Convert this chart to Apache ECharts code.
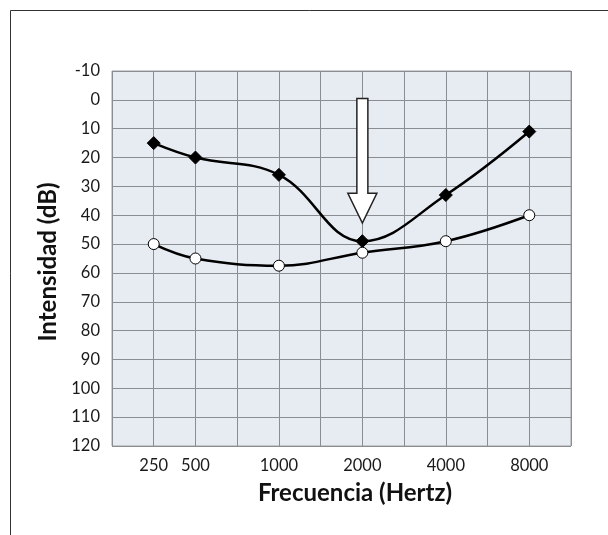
<!DOCTYPE html>
<html>
<head>
<meta charset="utf-8">
<script src="https://cdn.jsdelivr.net/npm/echarts@6/dist/echarts.min.js"></script>
<style>
html,body{margin:0;padding:0;background:#fff;}
#c{width:608px;height:535px;}
</style>
</head>
<body>
<div id="c"></div>
<script>
// Category positions on the x scale and their labels
var freqPos = [1, 2, 4, 6, 8, 10];
var freqLabels = ['250', '500', '1000', '2000', '4000', '8000'];
// Series values (dB)
var filledValues = [15, 20, 26, 49, 33, 11];
var openValues = [50, 55, 57.5, 53, 49, 40];
// Arrow annotation: [x position, top value, head start value, tip value]
var arrowData = [[6, -0.5, 32.4, 42.7]];

var chart = echarts.init(document.getElementById('c'));
var fontFam = 'Lato, "Open Sans", sans-serif';

function pairs(vals) {
  return freqPos.map(function (p, i) { return [p, vals[i]]; });
}

var option = {
  animation: false,
  backgroundColor: '#ffffff',
  graphic: [{
    type: 'rect',
    shape: { x: 10.5, y: 10.5, width: 700, height: 700 },
    style: { fill: 'none', stroke: '#333', lineWidth: 1 },
    z: -1
  }],
  grid: {
    left: 112, top: 71, width: 459, height: 375,
    show: true,
    backgroundColor: '#E7EBF2',
    borderColor: '#a0a0a0',
    borderWidth: 1
  },
  xAxis: {
    type: 'value',
    min: 0, max: 11, interval: 1,
    axisLine: { show: false },
    axisTick: { show: false },
    splitLine: { show: true, lineStyle: { color: '#8a8d92', width: 1 } },
    axisLabel: {
      color: '#1a1a1a', fontSize: 16.5, fontFamily: fontFam, margin: 11,
      formatter: function (v) {
        var i = freqPos.indexOf(v);
        return i >= 0 ? freqLabels[i] : '';
      }
    },
    name: 'Frecuencia (Hertz)',
    nameLocation: 'middle',
    nameGap: 35,
    nameTextStyle: { fontSize: 24, fontWeight: 'bold', fontFamily: fontFam, color: '#111', padding: [0, 0, 0, 27] }
  },
  yAxis: {
    type: 'value',
    inverse: true,
    min: -10, max: 120, interval: 10,
    axisLine: { show: false },
    axisTick: { show: false },
    splitLine: { show: true, lineStyle: { color: '#8a8d92', width: 1 } },
    axisLabel: { color: '#1a1a1a', fontSize: 16.5, fontFamily: fontFam, margin: 12 },
    name: 'Intensidad (dB)',
    nameLocation: 'middle',
    nameGap: 52,
    nameRotate: 90,
    nameTextStyle: { fontSize: 24, fontWeight: 'bold', fontFamily: fontFam, color: '#111', padding: [0, 7, 0, 0] }
  },
  series: [
    {
      type: 'line',
      data: pairs(filledValues),
      smooth: 0.4,
      symbol: 'diamond',
      symbolSize: 13,
      itemStyle: { color: '#000', borderColor: '#000' },
      lineStyle: { color: '#000', width: 2.5 },
      z: 3
    },
    {
      type: 'line',
      data: pairs(openValues),
      smooth: 0.4,
      symbol: 'circle',
      symbolSize: 11,
      itemStyle: { color: '#fff', borderColor: '#000', borderWidth: 1 },
      lineStyle: { color: '#000', width: 2.5 },
      z: 3
    },
    {
      type: 'custom',
      data: arrowData,
      z: 5,
      renderItem: function (params, api) {
        var x = api.value(0);
        var top = api.coord([x, api.value(1)]);
        var hs = api.coord([x, api.value(2)]);
        var tip = api.coord([x, api.value(3)]);
        var sw = 5.5, hw = 14.5;
        return {
          type: 'polygon',
          shape: {
            points: [
              [top[0] - sw, top[1]], [top[0] + sw, top[1]],
              [hs[0] + sw, hs[1]], [hs[0] + hw, hs[1]],
              [tip[0], tip[1]],
              [hs[0] - hw, hs[1]], [hs[0] - sw, hs[1]]
            ]
          },
          style: { fill: '#fff', stroke: '#222', lineWidth: 1.5 }
        };
      }
    }
  ]
};
chart.setOption(option);
</script>
</body>
</html>
